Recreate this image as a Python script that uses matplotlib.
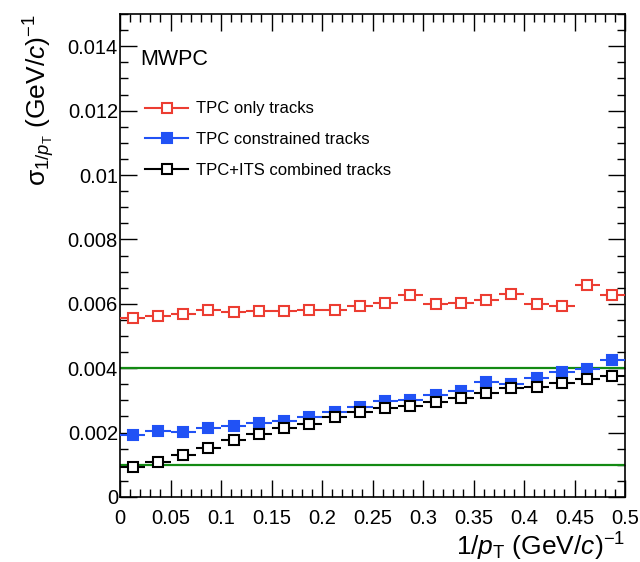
import numpy as np
import matplotlib
matplotlib.use("Agg")
import matplotlib.pyplot as plt
from matplotlib.lines import Line2D
from matplotlib.ticker import MultipleLocator, FuncFormatter

plt.rcParams['font.family'] = ['Liberation Sans', 'DejaVu Sans']
plt.rcParams['mathtext.fontset'] = 'custom'
plt.rcParams['mathtext.rm'] = 'Liberation Sans'
plt.rcParams['mathtext.it'] = 'Liberation Sans:italic'
plt.rcParams['mathtext.sf'] = 'Liberation Sans'

# ---- data ----
x_centers = [0.0125 + 0.025 * i for i in range(20)]
bin_half = 0.0125

tpc_only = [0.00557, 0.00561, 0.00567, 0.00581, 0.00573, 0.00578, 0.00578, 0.00582, 0.00581, 0.00593,
            0.00602, 0.00627, 0.00599, 0.00604, 0.00613, 0.00629, 0.00599, 0.00594, 0.00659, 0.00628]
tpc_only_err = [0.00012, 0.00006, 0.00006, 0.00006, 0.00006, 0.00006, 0.00006, 0.00006, 0.00006, 0.00006,
                0.00006, 0.00006, 0.00006, 0.00006, 0.00006, 0.00007, 0.00006, 0.00006, 0.00012, 0.00009]
tpc_constrained = [0.00193, 0.00204, 0.00201, 0.00215, 0.00222, 0.00229, 0.00237, 0.00248, 0.00263, 0.00279,
                   0.00299, 0.00301, 0.00317, 0.00328, 0.00356, 0.00351, 0.00371, 0.00387, 0.00397, 0.00425]
tpc_its = [0.00092, 0.00110, 0.00131, 0.00153, 0.00177, 0.00196, 0.00215, 0.00227, 0.00248, 0.00265,
           0.00277, 0.00284, 0.00296, 0.00306, 0.00324, 0.00339, 0.00341, 0.00354, 0.00366, 0.00376]
ref_levels = [0.004, 0.001]

labels = ["TPC only tracks", "TPC constrained tracks", "TPC+ITS combined tracks"]

RED = '#ec3d32'
BLUE = '#2152f5'
BLACK = '#000000'
GREEN = '#138a13'

fig = plt.figure(figsize=(6.4, 5.62), dpi=100)
ax = fig.add_axes([0.1875, 0.1157, 0.7891, 0.8593])

MS = 7
xe = [bin_half] * len(x_centers)
ax.errorbar(x_centers, tpc_only, xerr=xe, yerr=tpc_only_err, fmt='s', ms=MS, mfc='white',
            mec=RED, mew=1.5, ecolor=RED, elinewidth=1.5, capsize=0, zorder=3)
ax.errorbar(x_centers, tpc_constrained, xerr=xe, fmt='s', ms=MS, mfc=BLUE,
            mec=BLUE, mew=1.5, ecolor=BLUE, elinewidth=1.5, capsize=0, zorder=3)
ax.errorbar(x_centers, tpc_its, xerr=xe, fmt='s', ms=MS, mfc='white',
            mec=BLACK, mew=1.5, ecolor=BLACK, elinewidth=1.5, capsize=0, zorder=4)

for lv in ref_levels:
    ax.axhline(lv, color=GREEN, lw=1.6, zorder=2)

ax.set_xlim(0, 0.5)
ax.set_ylim(0, 0.015)

ax.xaxis.set_major_locator(MultipleLocator(0.05))
ax.xaxis.set_minor_locator(MultipleLocator(0.01))
ax.yaxis.set_major_locator(MultipleLocator(0.002))
ax.yaxis.set_minor_locator(MultipleLocator(0.0005))

def fmt(v, pos):
    s = ('%.3f' % v).rstrip('0').rstrip('.')
    return s if s else '0'
ax.xaxis.set_major_formatter(FuncFormatter(fmt))
ax.yaxis.set_major_formatter(FuncFormatter(fmt))

ax.tick_params(which='both', direction='in', top=True, right=True, labelsize=14.5, width=1)
ax.tick_params(which='major', length=12)
ax.tick_params(which='minor', length=6)
ax.tick_params(axis='x', pad=9)
ax.tick_params(axis='y', pad=1.5)
for s in ax.spines.values():
    s.set_linewidth(1.2)

ax.set_xlabel(r'1/$p_{\rm T}$ (GeV/$c$)$^{-1}$', fontsize=19, loc='right', labelpad=2)
ax.set_ylabel(r'σ$_{1/p_{\rm T}}$ (GeV/$c$)$^{-1}$', fontsize=19, loc='top', labelpad=8)

ax.text(0.04, 0.905, 'MWPC', transform=ax.transAxes, fontsize=15.5, va='center', ha='left')

handles = [
    Line2D([], [], color=RED, marker='s', mfc='white', mec=RED, ms=MS, mew=1.5, lw=1.5),
    Line2D([], [], color=BLUE, marker='s', mfc=BLUE, mec=BLUE, ms=MS, mew=1.5, lw=1.5),
    Line2D([], [], color=BLACK, marker='s', mfc='white', mec=BLACK, ms=MS, mew=1.5, lw=1.5),
]
ax.legend(handles, labels, loc='upper left', bbox_to_anchor=(0.02, 0.85), frameon=False,
          fontsize=12, handlelength=2.6, labelspacing=0.95, handletextpad=0.45)

fig.savefig('out.png', dpi=100)
